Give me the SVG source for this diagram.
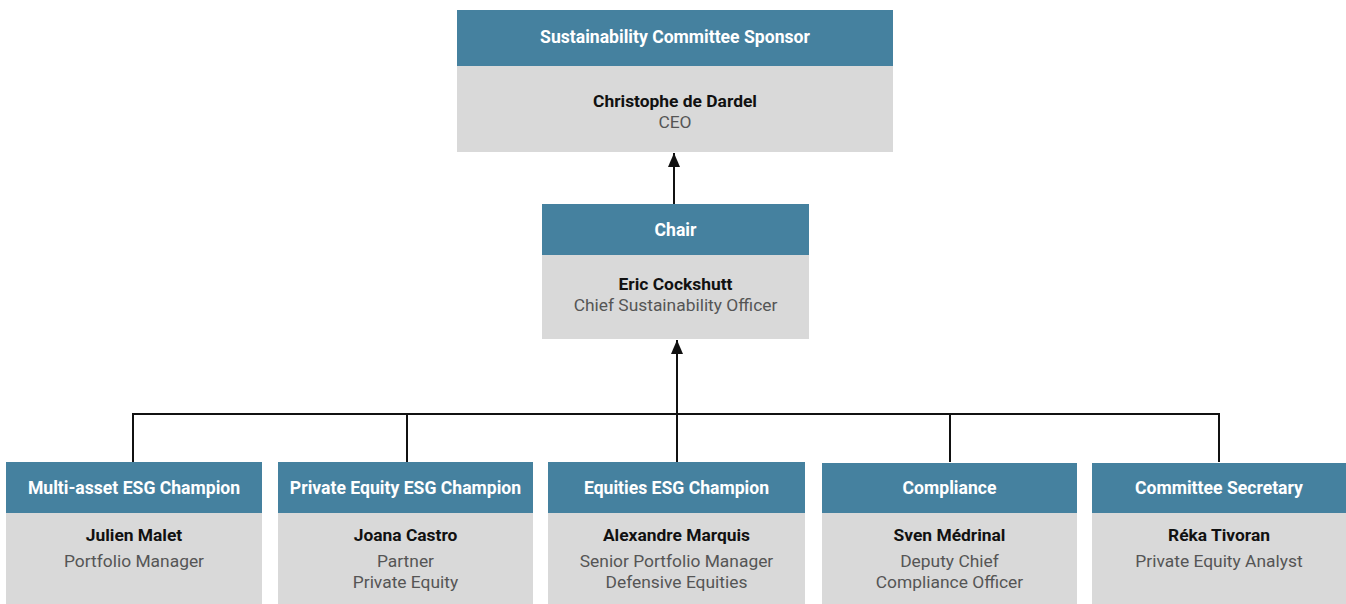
<svg xmlns="http://www.w3.org/2000/svg" width="1346" height="604" viewBox="0 0 1346 604">
<defs>
<style>
.hd{fill:#45819f}
.bd{fill:#d9d9d9}
.ht{font-family:Roboto,"Liberation Sans",sans-serif;font-weight:bold;font-size:17.6px;fill:#ffffff;text-anchor:middle}
.nm{font-family:Roboto,"Liberation Sans",sans-serif;font-weight:bold;font-size:17.4px;fill:#111111;text-anchor:middle}
.rl{font-family:Roboto,"Liberation Sans",sans-serif;font-size:17.4px;fill:#555555;text-anchor:middle}
.ln{stroke:#111111;stroke-width:2;fill:none}
</style>
<marker id="ah" viewBox="0 0 14 12" refX="14" refY="6" markerWidth="14" markerHeight="12" markerUnits="userSpaceOnUse" orient="auto">
<path d="M0,0 L14,6 L0,12 Z" fill="#111111"/>
</marker>
</defs>
<rect width="1346" height="604" fill="#ffffff"/>
<g id="connectors">
<line class="ln" x1="674" y1="204" x2="674" y2="153" marker-end="url(#ah)"/>
<line class="ln" x1="677" y1="414" x2="677" y2="340" marker-end="url(#ah)"/>
<polyline class="ln" points="133,462 133,414 1219,414 1219,462"/>
<line class="ln" x1="407" y1="414" x2="407" y2="462"/>
<line class="ln" x1="677" y1="414" x2="677" y2="462"/>
<line class="ln" x1="950" y1="414" x2="950" y2="462"/>
</g>
<g id="sponsor">
<rect class="hd" x="457" y="10" width="436" height="56"/>
<rect class="bd" x="457" y="66" width="436" height="86"/>
<text class="ht" x="675" y="43">Sustainability Committee Sponsor</text>
<text class="nm" x="675" y="107">Christophe de Dardel</text>
<text class="rl" x="675" y="128">CEO</text>
</g>
<g id="chair">
<rect class="hd" x="542" y="204" width="267" height="51"/>
<rect class="bd" x="542" y="255" width="267" height="84"/>
<text class="ht" x="675.5" y="236">Chair</text>
<text class="nm" x="675.5" y="290">Eric Cockshutt</text>
<text class="rl" x="675.5" y="311">Chief Sustainability Officer</text>
</g>
<g id="multiasset">
<rect class="hd" x="6" y="462" width="256" height="51"/>
<rect class="bd" x="6" y="513" width="256" height="91"/>
<text class="ht" x="134" y="494">Multi-asset ESG Champion</text>
<text class="nm" x="134" y="541">Julien Malet</text>
<text class="rl" x="134" y="567">Portfolio Manager</text>
</g>
<g id="privateequity">
<rect class="hd" x="278" y="462" width="255" height="51"/>
<rect class="bd" x="278" y="513" width="255" height="91"/>
<text class="ht" x="405.5" y="494">Private Equity ESG Champion</text>
<text class="nm" x="405.5" y="541">Joana Castro</text>
<text class="rl" x="405.5" y="567">Partner</text>
<text class="rl" x="405.5" y="588">Private Equity</text>
</g>
<g id="equities">
<rect class="hd" x="548" y="462" width="257" height="51"/>
<rect class="bd" x="548" y="513" width="257" height="91"/>
<text class="ht" x="676.5" y="494">Equities ESG Champion</text>
<text class="nm" x="676.5" y="541">Alexandre Marquis</text>
<text class="rl" x="676.5" y="567">Senior Portfolio Manager</text>
<text class="rl" x="676.5" y="588">Defensive Equities</text>
</g>
<g id="compliance">
<rect class="hd" x="822" y="463" width="255" height="50"/>
<rect class="bd" x="822" y="513" width="255" height="91"/>
<text class="ht" x="949.5" y="494">Compliance</text>
<text class="nm" x="949.5" y="541">Sven Médrinal</text>
<text class="rl" x="949.5" y="567">Deputy Chief</text>
<text class="rl" x="949.5" y="588">Compliance Officer</text>
</g>
<g id="secretary">
<rect class="hd" x="1092" y="463" width="254" height="50"/>
<rect class="bd" x="1092" y="513" width="254" height="91"/>
<text class="ht" x="1219" y="494">Committee Secretary</text>
<text class="nm" x="1219" y="541">Réka Tivoran</text>
<text class="rl" x="1219" y="567">Private Equity Analyst</text>
</g>
</svg>
